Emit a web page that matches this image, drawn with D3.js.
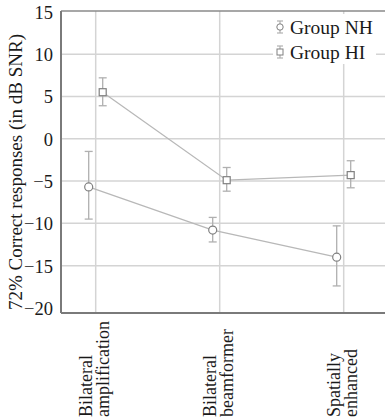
<!DOCTYPE html>
<html><head><meta charset="utf-8">
<script src="https://cdn.jsdelivr.net/npm/d3@7"></script>
<style>body{margin:0;background:#fff}svg{display:block}</style>
</head><body>
<script>
const categories = [["Bilateral","amplification"],["Bilateral","beamformer"],["Spatially","enhanced"]];
const yTicks = [15, 10, 5, 0, -5, -10, -15, -20];
const nhMean = [-5.7, -10.8, -14.0];
const nhLow  = [-9.5, -12.2, -17.4];
const nhHigh = [-1.5, -9.3, -10.3];
const hiMean = [5.5, -4.9, -4.3];
const hiLow  = [3.9, -6.2, -5.8];
const hiHigh = [7.2, -3.4, -2.6];
const seriesNames = ["Group NH", "Group HI"];

(function(){
const W = 385, H = 420;
const pL = 61, pT = 11, pB = 313, pR = 385;
const font = "'Liberation Serif', 'Times New Roman', serif";
const txt = "#1a1a1a";

const svg = d3.select("body").append("svg").attr("width", W).attr("height", H);
const y = d3.scaleLinear().domain([-20.6, 15.1]).range([pB, pT]);
const x = d3.scalePoint().domain(d3.range(categories.length)).range([95.7, 343.7]);

// gridlines
svg.append("g").selectAll("line").data(yTicks.filter(t => t > -20 && t < 15)).join("line")
  .attr("x1", pL).attr("x2", pR).attr("y1", d => y(d)).attr("y2", d => y(d))
  .attr("stroke", "#d4d4d4").attr("stroke-width", 1.5);
svg.append("g").selectAll("line").data(d3.range(categories.length)).join("line")
  .attr("x1", d => x(d)).attr("x2", d => x(d)).attr("y1", pT).attr("y2", pB)
  .attr("stroke", "#d4d4d4").attr("stroke-width", 1.5);

// frame
svg.append("line").attr("x1", pL).attr("x2", pR).attr("y1", pT).attr("y2", pT)
  .attr("stroke", "#8a8a8a").attr("stroke-width", 1.5);
svg.append("line").attr("x1", pL).attr("x2", pR).attr("y1", pB).attr("y2", pB)
  .attr("stroke", "#7a7a7a").attr("stroke-width", 2);
svg.append("line").attr("x1", pL).attr("x2", pL).attr("y1", pT).attr("y2", pB)
  .attr("stroke", "#7a7a7a").attr("stroke-width", 2);

// y axis ticks via d3 axis
const yAxis = svg.append("g").attr("transform", `translate(${pL - 8},0)`)
  .call(d3.axisLeft(y).tickValues(yTicks).tickSize(0).tickPadding(0));
yAxis.select(".domain").remove();
yAxis.selectAll("text").attr("font-family", font).attr("font-size", 18.5).attr("fill", txt)
  .attr("dy", "0.35em");

// y title
svg.append("text").attr("transform", `translate(22,172) rotate(-90)`)
  .attr("text-anchor", "middle").attr("font-family", font).attr("font-size", 19)
  .attr("fill", txt).text("72% Correct responses (in dB SNR)");

// x labels
const xl = svg.append("g");
categories.forEach((lines, i) => {
  lines.forEach((ln, j) => {
    xl.append("text").attr("transform", `translate(${x(i) - 4 + j * 17.5},417) rotate(-90)`)
      .attr("text-anchor", "start").attr("font-family", font).attr("font-size", 18)
      .attr("fill", txt).text(ln);
  });
});

const series = [
  {mean: nhMean, lo: nhLow, hi: nhHigh, dx: -7, shape: "circle"},
  {mean: hiMean, lo: hiLow, hi: hiHigh, dx: 7, shape: "square"}
];
const lineGen = d3.line().x(d => d[0]).y(d => d[1]);
series.forEach(s => {
  const pts = s.mean.map((v, i) => [x(i) + s.dx, y(v)]);
  svg.append("path").attr("d", lineGen(pts)).attr("fill", "none")
    .attr("stroke", "#b8b8b8").attr("stroke-width", 1.3);
  const g = svg.append("g");
  s.mean.forEach((v, i) => {
    const cx = x(i) + s.dx;
    g.append("line").attr("x1", cx).attr("x2", cx).attr("y1", y(s.lo[i])).attr("y2", y(s.hi[i]))
      .attr("stroke", "#b0b0b0").attr("stroke-width", 1.3);
    [s.lo[i], s.hi[i]].forEach(e => g.append("line").attr("x1", cx - 4).attr("x2", cx + 4)
      .attr("y1", y(e)).attr("y2", y(e)).attr("stroke", "#b0b0b0").attr("stroke-width", 1.3));
    if (s.shape === "circle") {
      g.append("circle").attr("cx", cx).attr("cy", y(v)).attr("r", 4)
        .attr("fill", "#fff").attr("stroke", "#808080").attr("stroke-width", 1.2);
    } else {
      g.append("rect").attr("x", cx - 3.5).attr("y", y(v) - 3.5).attr("width", 7).attr("height", 7)
        .attr("fill", "#fff").attr("stroke", "#808080").attr("stroke-width", 1.2);
    }
  });
});

// legend
const lg = svg.append("g");
lg.append("rect").attr("x", 273).attr("y", 14).attr("width", 103).attr("height", 50).attr("fill", "#fff");
seriesNames.forEach((name, i) => {
  const ly = 27 + i * 25, lx = 280;
  lg.append("line").attr("x1", lx).attr("x2", lx).attr("y1", ly - 6).attr("y2", ly + 6)
    .attr("stroke", "#b0b0b0").attr("stroke-width", 1.2);
  [ly - 6, ly + 6].forEach(e => lg.append("line").attr("x1", lx - 3).attr("x2", lx + 3)
    .attr("y1", e).attr("y2", e).attr("stroke", "#b0b0b0").attr("stroke-width", 1.2));
  if (i === 0) lg.append("circle").attr("cx", lx).attr("cy", ly).attr("r", 3.2)
    .attr("fill", "#fff").attr("stroke", "#808080").attr("stroke-width", 1);
  else lg.append("rect").attr("x", lx - 3).attr("y", ly - 3).attr("width", 6).attr("height", 6)
    .attr("fill", "#fff").attr("stroke", "#808080").attr("stroke-width", 1);
  lg.append("text").attr("x", 290).attr("y", ly).attr("dy", "0.35em")
    .attr("font-family", font).attr("font-size", 19.5).attr("fill", txt).text(name);
});
})();
</script>
</body></html>
